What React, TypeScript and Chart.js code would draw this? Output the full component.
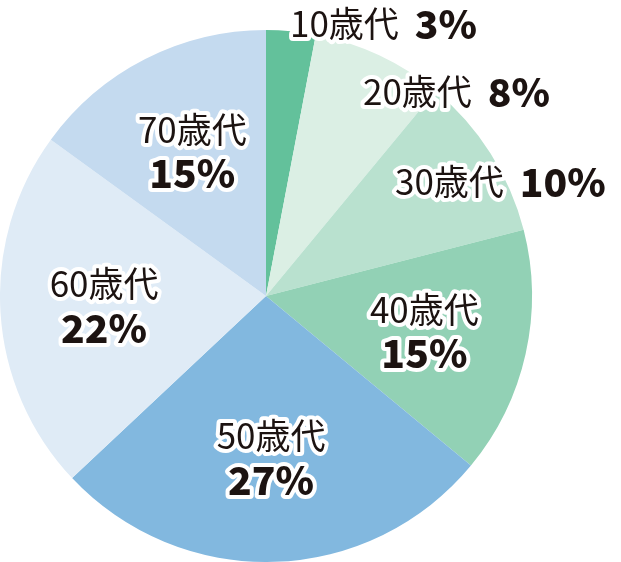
import { useEffect, useRef } from "react"
import Chart from "chart.js/auto"

const AGE_GROUPS = ["10歳代", "20歳代", "30歳代", "40歳代", "50歳代", "60歳代", "70歳代"]
const SHARES = [3, 8, 10, 15, 27, 22, 15]
const SLICE_COLORS = ["#63c19b", "#dbefe4", "#b9e1cf", "#92d1b5", "#82b8df", "#dfebf6", "#c4daef"]

const TEXT_COLOR = "#1c1311"
const FONT = '"Noto Sans CJK JP", "Noto Sans", sans-serif'

// 外側に一行で置くラベル (中心からのずれ, px)
const OUTSIDE: Record<number, { x: number; y: number }> = {
  0: { x: 24, y: -272 },
  1: { x: 97, y: -204 },
  2: { x: 129, y: -114 },
}

const labelPlugin = {
  id: "sliceLabels",
  afterDatasetsDraw(chart: any) {
    const ctx = chart.ctx
    const arcs = chart.getDatasetMeta(0).data
    ctx.save()
    ctx.lineJoin = "round"
    ctx.textBaseline = "middle"
    const drawText = (text: string, x: number, y: number, font: string, align: CanvasTextAlign) => {
      ctx.font = font
      ctx.textAlign = align
      ctx.strokeStyle = "#ffffff"
      ctx.lineWidth = 8
      ctx.strokeText(text, x, y)
      ctx.fillStyle = TEXT_COLOR
      ctx.fillText(text, x, y)
    }
    const nameFont = `400 35px ${FONT}`
    const pctFont = `900 39px ${FONT}`
    arcs.forEach((arc: any, i: number) => {
      const { x: cx, y: cy, startAngle, endAngle, outerRadius } = arc.getProps(
        ["x", "y", "startAngle", "endAngle", "outerRadius"],
        true
      )
      const name = AGE_GROUPS[i]
      const pct = `${SHARES[i]}%`
      if (OUTSIDE[i]) {
        const x = cx + OUTSIDE[i].x
        const y = cy + OUTSIDE[i].y
        ctx.font = nameFont
        const w = ctx.measureText(name).width
        drawText(name, x, y, nameFont, "left")
        drawText(pct, x + w + 16, y, pctFont, "left")
      } else {
        const mid = (startAngle + endAngle) / 2
        const r = outerRadius * 0.61
        const x = cx + Math.cos(mid) * r
        const y = cy + Math.sin(mid) * r
        drawText(name, x, y - 22, nameFont, "center")
        drawText(pct, x, y + 22, pctFont, "center")
      }
    })
    ctx.restore()
  },
}

export default function App() {
  const canvasRef = useRef<HTMLCanvasElement>(null)

  useEffect(() => {
    document.body.style.margin = "0"
    if (!canvasRef.current) return
    const chart = new Chart(canvasRef.current, {
      type: "pie",
      data: {
        labels: AGE_GROUPS,
        datasets: [
          {
            data: SHARES,
            backgroundColor: SLICE_COLORS,
            borderWidth: 0,
          },
        ],
      },
      options: {
        responsive: false,
        animation: false,
        layout: { padding: { left: 0, right: 89, top: 30, bottom: 0 } },
        plugins: {
          legend: { display: false },
          tooltip: { enabled: false },
        },
      },
      plugins: [labelPlugin],
    })
    return () => chart.destroy()
  }, [])

  return (
    <div style={{ width: 621, height: 562 }}>
      <canvas ref={canvasRef} width={621} height={562} style={{ width: 621, height: 562 }} />
    </div>
  )
}
